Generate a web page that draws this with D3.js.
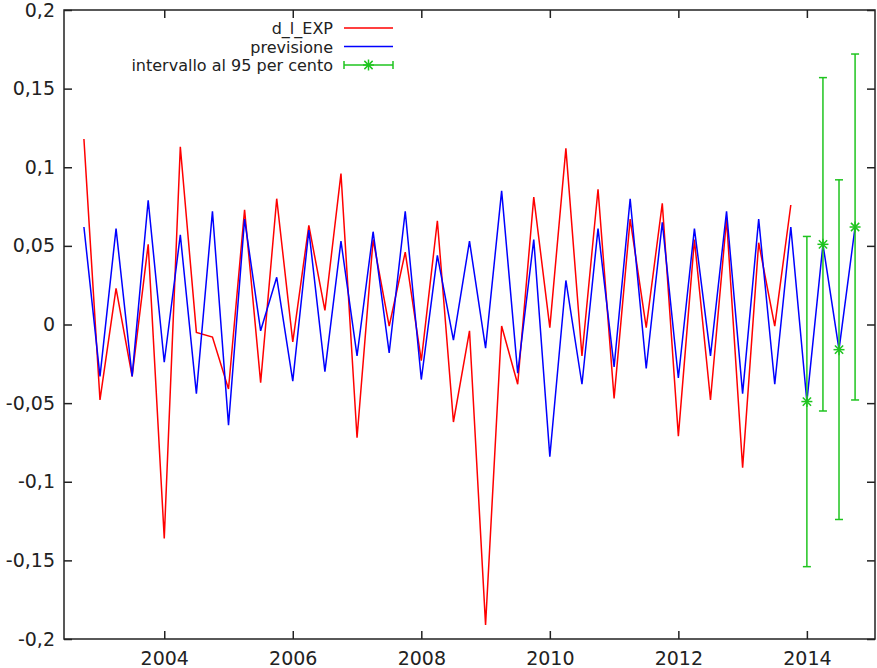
<!DOCTYPE html>
<html>
<head>
<meta charset="utf-8">
<script src="https://cdn.jsdelivr.net/npm/d3@7"></script>
<style>
  body { margin: 0; background: #fff; }
  svg { display: block; }
  .tick-label { font-family: "DejaVu Sans", Verdana, sans-serif; font-size: 19px; fill: #222; }
  .legend-label { font-family: "DejaVu Sans", Verdana, sans-serif; font-size: 16px; fill: #222; }
</style>
</head>
<body>
<div id="chart"></div>
<script>
// observed series d_l_EXP, quarterly from 2002:4 to 2013:4
const actual = [
  0.118, -0.048, 0.023, -0.033, 0.051, -0.136, 0.113, -0.005, -0.008, -0.041,
  0.073, -0.037, 0.080, -0.011, 0.063, 0.009, 0.096, -0.072, 0.054, -0.001,
  0.046, -0.023, 0.066, -0.062, -0.004, -0.191, -0.001, -0.038, 0.081, -0.002,
  0.112, -0.020, 0.086, -0.047, 0.067, -0.002, 0.077, -0.071, 0.054, -0.048,
  0.067, -0.091, 0.052, -0.001, 0.076
];
// fitted values + forecast, quarterly from 2002:4 to 2014:4
const forecast = [
  0.062, -0.033, 0.061, -0.033, 0.079, -0.024, 0.057, -0.044, 0.072, -0.064,
  0.067, -0.004, 0.030, -0.036, 0.060, -0.030, 0.053, -0.020, 0.059, -0.018,
  0.072, -0.035, 0.044, -0.010, 0.053, -0.015, 0.085, -0.031, 0.054, -0.084,
  0.028, -0.038, 0.061, -0.027, 0.080, -0.028, 0.065, -0.034, 0.061, -0.020,
  0.072, -0.044, 0.067, -0.038, 0.062, -0.049, 0.051, -0.016, 0.062
];
// 95% interval for the out-of-sample quarters 2014:1 - 2014:4
const intervalLow = [-0.154, -0.055, -0.124, -0.048];
const intervalHigh = [0.056, 0.157, 0.092, 0.172];

const startYear = 2002.75;   // 2002:4
const xTicks = [2004, 2006, 2008, 2010, 2012, 2014];
const yTicks = [-0.2, -0.15, -0.1, -0.05, 0, 0.05, 0.1, 0.15, 0.2];
const legendItems = ["d_l_EXP", "previsione", "intervallo al 95 per cento"];

const W = 877, H = 668;
const margin = {top: 10, left: 64, right: 2, bottom: 29};
const colors = {actual: "#ff0000", forecast: "#0000ff", interval: "#1fc41f", frame: "#222"};

const date = i => startYear + i / 4;

const x = d3.scaleLinear().domain([2002.44, 2015.06]).range([margin.left, W - margin.right]);
const y = d3.scaleLinear().domain([-0.2, 0.2]).range([H - margin.bottom, margin.top]);

const loc = d3.formatLocale({decimal: ",", thousands: ".", grouping: [3], currency: ["", ""], minus: "-"});
const fmt = loc.format("~g");

const svg = d3.select("#chart").append("svg")
  .attr("width", W).attr("height", H)
  .attr("viewBox", [0, 0, W, H].join(" "));

// axes: labels on left/bottom, inward ticks mirrored on every side
const tickLen = 8;
svg.append("g")
  .attr("transform", `translate(${margin.left},0)`)
  .call(d3.axisLeft(y).tickValues(yTicks).tickSize(-tickLen).tickPadding(9).tickFormat(fmt))
  .call(g => g.select(".domain").remove())
  .call(g => g.selectAll("line").attr("stroke", colors.frame).attr("stroke-width", 1.5))
  .call(g => g.selectAll("text").attr("class", "tick-label").attr("font-family", null).attr("font-size", null));

svg.append("g")
  .attr("transform", `translate(${W - margin.right},0)`)
  .call(d3.axisRight(y).tickValues(yTicks).tickSize(-tickLen).tickFormat(""))
  .call(g => g.select(".domain").remove())
  .call(g => g.selectAll("line").attr("stroke", colors.frame).attr("stroke-width", 1.5));

svg.append("g")
  .attr("transform", `translate(0,${H - margin.bottom})`)
  .call(d3.axisBottom(x).tickValues(xTicks).tickSize(-tickLen).tickPadding(13).tickFormat(d3.format("d")))
  .call(g => g.select(".domain").remove())
  .call(g => g.selectAll("line").attr("stroke", colors.frame).attr("stroke-width", 1.5))
  .call(g => g.selectAll("text").attr("class", "tick-label").attr("font-family", null).attr("font-size", null));

svg.append("g")
  .attr("transform", `translate(0,${margin.top})`)
  .call(d3.axisTop(x).tickValues(xTicks).tickSize(-tickLen).tickFormat(""))
  .call(g => g.select(".domain").remove())
  .call(g => g.selectAll("line").attr("stroke", colors.frame).attr("stroke-width", 1.5));

// frame
svg.append("rect")
  .attr("x", margin.left).attr("y", margin.top)
  .attr("width", W - margin.right - margin.left)
  .attr("height", H - margin.bottom - margin.top)
  .attr("fill", "none").attr("stroke", colors.frame).attr("stroke-width", 1.5);

const line = d3.line().x((d, i) => x(date(i))).y(d => y(d));

svg.append("path").datum(actual)
  .attr("d", line).attr("fill", "none")
  .attr("stroke", colors.actual).attr("stroke-width", 1.5).attr("stroke-linejoin", "miter");

svg.append("path").datum(forecast)
  .attr("d", line).attr("fill", "none")
  .attr("stroke", colors.forecast).attr("stroke-width", 1.5).attr("stroke-linejoin", "miter");

// asterisk marker
function star(g, cx, cy, r) {
  const s = g.append("g").attr("transform", `translate(${cx},${cy})`)
    .attr("stroke", colors.interval).attr("stroke-width", 1.5);
  s.append("line").attr("x1", -r).attr("x2", r).attr("y1", 0).attr("y2", 0);
  s.append("line").attr("x1", 0).attr("x2", 0).attr("y1", -r).attr("y2", r);
  const d = r * 0.75;
  s.append("line").attr("x1", -d).attr("x2", d).attr("y1", -d).attr("y2", d);
  s.append("line").attr("x1", -d).attr("x2", d).attr("y1", d).attr("y2", -d);
}

// error bars for the forecast period
const firstFc = actual.length;
const capW = 4;
const bars = svg.append("g").attr("stroke", colors.interval).attr("stroke-width", 1.5);
intervalLow.forEach((lo, k) => {
  const cx = x(date(firstFc + k));
  const hi = intervalHigh[k];
  bars.append("line").attr("x1", cx).attr("x2", cx).attr("y1", y(lo)).attr("y2", y(hi));
  bars.append("line").attr("x1", cx - capW).attr("x2", cx + capW).attr("y1", y(lo)).attr("y2", y(lo));
  bars.append("line").attr("x1", cx - capW).attr("x2", cx + capW).attr("y1", y(hi)).attr("y2", y(hi));
  star(svg, cx, y(forecast[firstFc + k]), 5.5);
});

// legend
const legX = 333, legLine0 = 344, legLine1 = 393, legY0 = 28, legDy = 18.5;
const leg = svg.append("g");
legendItems.forEach((name, i) => {
  const ly = legY0 + i * legDy;
  leg.append("text").attr("class", "legend-label")
    .attr("x", legX).attr("y", ly + 6).attr("text-anchor", "end").text(name);
  if (i < 2) {
    leg.append("line").attr("x1", legLine0).attr("x2", legLine1).attr("y1", ly).attr("y2", ly)
      .attr("stroke", i === 0 ? colors.actual : colors.forecast).attr("stroke-width", 1.5);
  } else {
    const g = leg.append("g").attr("stroke", colors.interval).attr("stroke-width", 1.5);
    g.append("line").attr("x1", legLine0).attr("x2", legLine1).attr("y1", ly).attr("y2", ly);
    g.append("line").attr("x1", legLine0).attr("x2", legLine0).attr("y1", ly - capW).attr("y2", ly + capW);
    g.append("line").attr("x1", legLine1).attr("x2", legLine1).attr("y1", ly - capW).attr("y2", ly + capW);
    star(leg, (legLine0 + legLine1) / 2, ly, 5.5);
  }
});
</script>
</body>
</html>
